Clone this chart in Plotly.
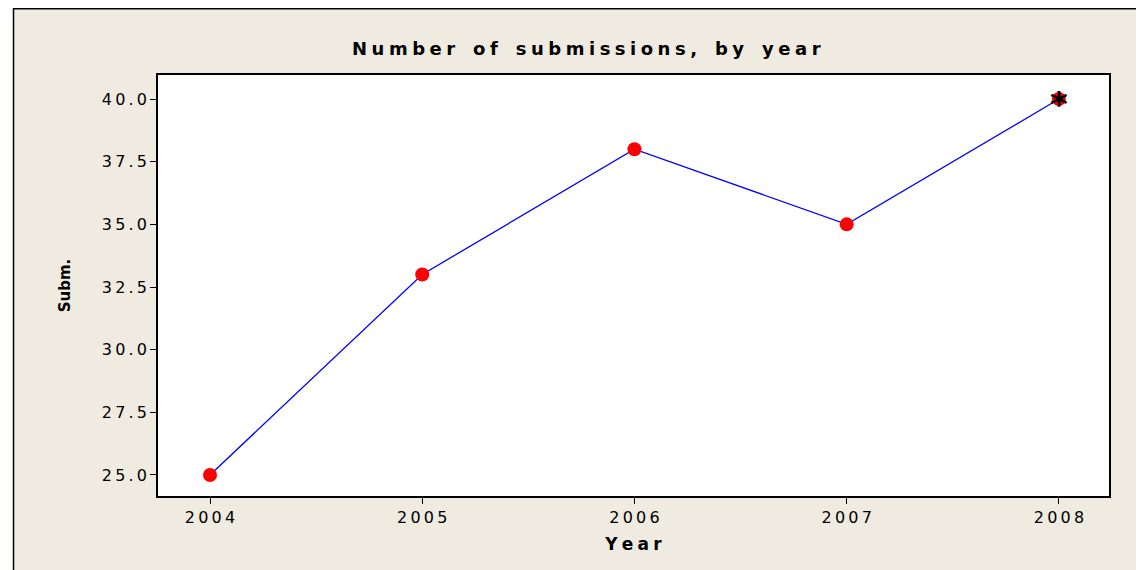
import plotly.graph_objects as go

years = [2004, 2005, 2006, 2007, 2008]
submissions = [25, 33, 38, 35, 40]
y_ticks = [25.0, 27.5, 30.0, 32.5, 35.0, 37.5, 40.0]
title_text = "Number of submissions, by year"
x_title = "Year"
y_title = "Subm."

SP = "\u2009"  # thin space for letter spacing


def spaced(s, sep=SP, word_sep="\u2002"):
    return word_sep.join(sep.join(list(w)) for w in s.split(" "))


# page body has an 8px margin; coordinates below are figure pixels
W, H = 1144, 570
ml, mr, mt, mb = 150, 43, 67, 82
pw, ph = W - ml - mr, H - mt - mb
BEIGE = "#EFEBE1"


def px(x):
    return (x - ml) / pw


def py(y):
    return 1 - (y - mt) / ph


fig = go.Figure()
fig.add_trace(go.Scatter(
    x=years, y=submissions, mode="lines+markers",
    line=dict(color="#0000FF", width=1.3),
    marker=dict(color="#FF0000", size=14, line=dict(width=0)),
    hoverinfo="skip", showlegend=False,
))

# black asterisk over the last point
fig.add_annotation(
    x=years[-1], y=submissions[-1], xref="x", yref="y",
    text="<b>*</b>", showarrow=False, yshift=-5,
    font=dict(family="DejaVu Sans", size=34, color="black"),
)

axis_common = dict(
    showline=True, linecolor="black", linewidth=1.5, mirror=True,
    ticks="outside", ticklen=6, tickwidth=1.2, tickcolor="black",
    showgrid=False, zeroline=False,
    tickfont=dict(family="DejaVu Sans", size=16, color="black"),
)

fig.update_xaxes(
    range=[2003.755, 2008.236], tickvals=years,
    ticktext=[spaced(str(y)) for y in years],
    title=dict(text="<b>" + spaced(x_title, sep="\u2005") + "</b>",
               font=dict(family="DejaVu Sans", size=17, color="black"),
               standoff=12),
    **axis_common,
)
fig.update_yaxes(
    range=[24.16, 40.96], tickvals=y_ticks,
    ticktext=[spaced(f"{v:.1f}") for v in y_ticks],
    title=dict(text="<b>" + y_title + "</b>",
               font=dict(family="DejaVu Sans", size=15, color="black"),
               standoff=28),
    **axis_common,
)

fig.add_annotation(
    text="<b>" + spaced(title_text, sep="\u2005", word_sep="\u2002\u2002") + "</b>",
    xref="paper", yref="paper",
    x=px(578), y=py(40),
    xanchor="center", yanchor="middle", showarrow=False,
    font=dict(family="DejaVu Sans", size=18, color="black"),
)

# white page strip left of / above the outer frame
fig.add_shape(type="rect", xref="paper", yref="paper",
              x0=-1, x1=px(5.5), y0=-1, y1=2,
              line=dict(width=0), fillcolor="white", layer="below")
fig.add_shape(type="rect", xref="paper", yref="paper",
              x0=-1, x1=2, y0=py(0.75), y1=2,
              line=dict(width=0), fillcolor="white", layer="below")
# outer frame (extends past right / bottom edges)
fig.add_shape(
    type="rect", xref="paper", yref="paper",
    x0=px(5.5), x1=1.3, y0=-0.5, y1=py(0.75),
    line=dict(color="black", width=1.5), fillcolor="rgba(0,0,0,0)", layer="below",
)

fig.update_layout(
    width=W, height=H,
    margin=dict(l=ml, r=mr, t=mt, b=mb),
    paper_bgcolor=BEIGE, plot_bgcolor="white",
)

fig.write_html("out.html")
